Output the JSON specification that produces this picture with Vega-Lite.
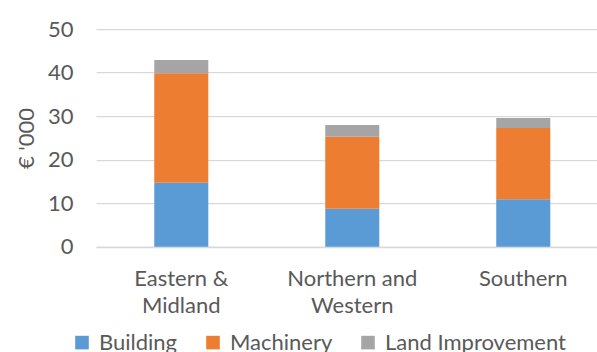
{
  "$schema": "https://vega.github.io/schema/vega-lite/v6.json",
  "width": 501,
  "height": 217.5,
  "autosize": "none",
  "padding": {"left": 96, "top": 29.2, "right": 0, "bottom": 105.3},
  "background": "white",
  "data": {
    "values": [
      {"region": "Eastern & Midland", "type": "Building", "rank": 1, "value": 14.7},
      {"region": "Eastern & Midland", "type": "Machinery", "rank": 2, "value": 25.2},
      {"region": "Eastern & Midland", "type": "Land Improvement", "rank": 3, "value": 3.0},
      {"region": "Northern and Western", "type": "Building", "rank": 1, "value": 8.7},
      {"region": "Northern and Western", "type": "Machinery", "rank": 2, "value": 16.6},
      {"region": "Northern and Western", "type": "Land Improvement", "rank": 3, "value": 2.7},
      {"region": "Southern", "type": "Building", "rank": 1, "value": 10.9},
      {"region": "Southern", "type": "Machinery", "rank": 2, "value": 16.4},
      {"region": "Southern", "type": "Land Improvement", "rank": 3, "value": 2.3}
    ]
  },
  "mark": {"type": "bar"},
  "encoding": {
    "x": {
      "field": "region",
      "type": "nominal",
      "sort": ["Eastern & Midland", "Northern and Western", "Southern"],
      "scale": {"paddingInner": 0.684, "paddingOuter": 0.307, "align": 0.555},
      "axis": {
        "title": null,
        "labelAngle": 0,
        "labelExpr": "datum.value == 'Eastern & Midland' ? ['Eastern &', 'Midland'] : datum.value == 'Northern and Western' ? ['Northern and', 'Western'] : datum.value",
        "labelLineHeight": 27.6,
        "labelPadding": 21.6,
        "labelBaseline": "top",
        "ticks": false,
        "domainColor": "#d9d9d9",
        "domainWidth": 1.3
      }
    },
    "y": {
      "field": "value",
      "type": "quantitative",
      "stack": "zero",
      "scale": {"domain": [0, 50], "nice": false},
      "axis": {
        "title": "€ '000",
        "values": [0, 10, 20, 30, 40, 50],
        "domain": false,
        "ticks": false,
        "labelPadding": 23,
        "gridColor": "#d9d9d9",
        "gridWidth": 1.3,
        "titleX": -70,
        "titleY": 108.75,
        "titleAlign": "center",
        "titleBaseline": "middle",
        "titleAngle": -90
      }
    },
    "color": {
      "field": "type",
      "type": "nominal",
      "sort": ["Building", "Machinery", "Land Improvement"],
      "scale": {
        "domain": ["Building", "Machinery", "Land Improvement"],
        "range": ["#5b9bd5", "#ed7d31", "#a5a5a5"]
      },
      "legend": {
        "title": null,
        "orient": "none",
        "direction": "horizontal",
        "legendX": -25,
        "legendY": 302.4,
        "symbolType": "square",
        "symbolSize": 185,
        "symbolStrokeWidth": 0,
        "labelOffset": 6,
        "labelLimit": 400,
        "columnPadding": 24,
        "padding": 0
      }
    },
    "order": {"field": "rank", "type": "quantitative"}
  },
  "config": {
    "font": "Lato",
    "view": {"stroke": null},
    "axis": {
      "labelFont": "Lato",
      "labelFontSize": 22,
      "labelColor": "#595959",
      "titleFont": "Lato",
      "titleFontSize": 22,
      "titleFontWeight": "normal",
      "titleColor": "#595959"
    },
    "legend": {
      "labelFont": "Lato",
      "labelFontSize": 22,
      "labelColor": "#595959"
    }
  }
}
